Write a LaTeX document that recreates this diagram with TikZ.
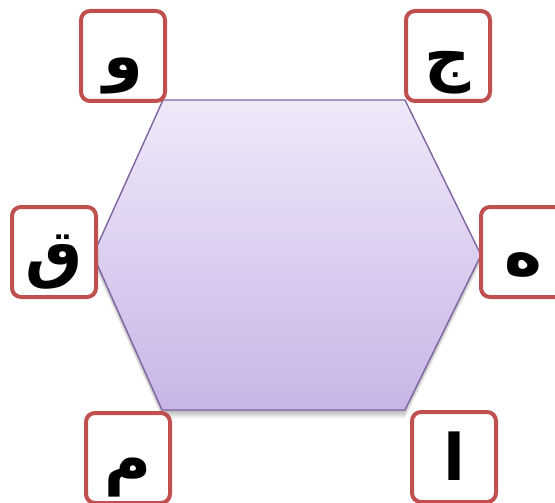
\documentclass[tikz,border=0pt]{standalone}
\usepackage{fontspec}
\usepackage{xcolor}
\usepackage{tikz}
\usetikzlibrary{positioning}
\TeXXeTstate=1
\newfontfamily\arabicfont[Script=Arabic]{DejaVu Sans}

\definecolor{boxred}{HTML}{C0504D}
\definecolor{hexline}{HTML}{8064A2}
\definecolor{hextop}{HTML}{EFE9F9}
\definecolor{hexbottom}{HTML}{C8B5E7}

\begin{document}
\begin{tikzpicture}[
    x=1pt, y=-1pt,
    letterbox/.style={rectangle, draw=boxred, fill=white, line width=4pt, rounded corners=9pt, minimum width=84pt, minimum height=90pt, inner sep=0pt, text height=46pt, text depth=0pt, font=\arabicfont\bfseries\fontsize{64}{68}\selectfont},
    hexagon/.style={draw=hexline, line width=1.4pt, top color=hextop, bottom color=hexbottom},
    hexshadow/.style={fill=black, opacity=0.07}
]
\useasboundingbox (0,0) rectangle (555,503);

% Hexagon corners
\coordinate (tl) at (163,100);
\coordinate (tr) at (405,100);
\coordinate (r) at (481,255);
\coordinate (br) at (405,410);
\coordinate (bl) at (162,410);
\coordinate (l) at (93,255);

% Soft shadow under the hexagon
\foreach \d in {2,4,6,8}
  \fill[hexshadow] ([yshift=-\d]tl) -- ([yshift=-\d]tr) -- ([yshift=-\d]r) -- ([yshift=-\d]br) -- ([yshift=-\d]bl) -- ([yshift=-\d]l) -- cycle;

% Hexagon
\draw[hexagon] (tl) -- (tr) -- (r) -- (br) -- (bl) -- (l) -- cycle;

% Letter boxes
\node[letterbox] (waw) at (123,56) {\beginR و\endR};
\node[letterbox] (jeem) at (448,56) {\beginR ج\endR};
\node[letterbox] (qaf) at (54,252) {\beginR ق\endR};
\node[letterbox] (heh) at (523,252) {\beginR ه\endR};
\node[letterbox] (meem) at (128,458) {\beginR م\endR};
\node[letterbox] (alef) at (454,457) {\beginR ا\endR};

\end{tikzpicture}
\end{document}
